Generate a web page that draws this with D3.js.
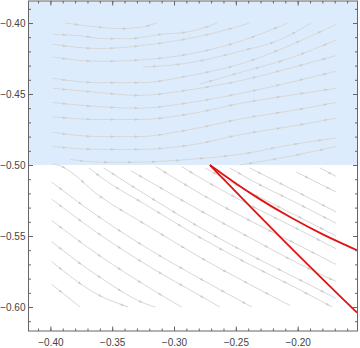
<!DOCTYPE html>
<html>
<head>
<meta charset="utf-8">
<script src="https://cdn.jsdelivr.net/npm/d3@7"></script>
<style>
  body { margin: 0; background: #fff; }
  svg text { font-family: "Liberation Sans", Arial, sans-serif; font-size: 10px; fill: #444; }
</style>
</head>
<body>
<div id="chart-area"></div>
<script>
// tick values
const xTicks = [-0.40, -0.35, -0.30, -0.25, -0.20]
const yTicks = [-0.40, -0.45, -0.50, -0.55, -0.60]
const regionBoundary = -0.5

// streamlines above y = -0.5 (shaded region)
const upperStreams = [
  [[-0.388,-0.400],[-0.360,-0.403],[-0.344,-0.404],[-0.327,-0.403],[-0.314,-0.400]],
  [[-0.398,-0.408],[-0.376,-0.409],[-0.357,-0.411],[-0.336,-0.411],[-0.311,-0.408],[-0.287,-0.406],[-0.265,-0.400]],
  [[-0.398,-0.415],[-0.360,-0.418],[-0.327,-0.416],[-0.295,-0.412],[-0.263,-0.406],[-0.239,-0.400]],
  [[-0.398,-0.424],[-0.360,-0.427],[-0.327,-0.426],[-0.295,-0.423],[-0.247,-0.413],[-0.208,-0.400]],
  [[-0.325,-0.431],[-0.295,-0.429],[-0.247,-0.420],[-0.215,-0.412],[-0.189,-0.400]],
  [[-0.398,-0.439],[-0.360,-0.442],[-0.327,-0.442],[-0.287,-0.437],[-0.243,-0.428],[-0.207,-0.416],[-0.169,-0.401]],
  [[-0.279,-0.443],[-0.243,-0.434],[-0.207,-0.425],[-0.169,-0.412]],
  [[-0.398,-0.446],[-0.360,-0.449],[-0.329,-0.451],[-0.287,-0.447],[-0.243,-0.440],[-0.207,-0.432],[-0.169,-0.423]],
  [[-0.398,-0.456],[-0.360,-0.459],[-0.329,-0.460],[-0.287,-0.456],[-0.243,-0.449],[-0.207,-0.442],[-0.169,-0.434]],
  [[-0.398,-0.466],[-0.360,-0.468],[-0.329,-0.468],[-0.287,-0.464],[-0.243,-0.456],[-0.207,-0.451],[-0.169,-0.446]],
  [[-0.398,-0.477],[-0.360,-0.480],[-0.329,-0.480],[-0.287,-0.475],[-0.243,-0.467],[-0.207,-0.462],[-0.169,-0.456]],
  [[-0.398,-0.487],[-0.360,-0.489],[-0.329,-0.489],[-0.287,-0.486],[-0.243,-0.478],[-0.207,-0.473],[-0.169,-0.467]],
  [[-0.384,-0.496],[-0.360,-0.498],[-0.329,-0.498],[-0.287,-0.496],[-0.243,-0.492],[-0.207,-0.486],[-0.169,-0.481]],
  [[-0.247,-0.500],[-0.207,-0.494],[-0.169,-0.487]]
]

// streamlines below y = -0.5
const lowerStreams = [
  [[-0.399,-0.584],[-0.376,-0.600]],
  [[-0.399,-0.568],[-0.360,-0.592],[-0.337,-0.600]],
  [[-0.399,-0.554],[-0.360,-0.579],[-0.319,-0.599],[-0.315,-0.600]],
  [[-0.399,-0.539],[-0.360,-0.564],[-0.319,-0.587],[-0.294,-0.600]],
  [[-0.399,-0.524],[-0.360,-0.549],[-0.319,-0.572],[-0.279,-0.592],[-0.263,-0.600]],
  [[-0.399,-0.512],[-0.360,-0.537],[-0.319,-0.560],[-0.279,-0.580],[-0.237,-0.600]],
  [[-0.398,-0.499],[-0.391,-0.501],[-0.360,-0.522],[-0.319,-0.544],[-0.279,-0.565],[-0.239,-0.584],[-0.206,-0.599]],
  [[-0.369,-0.502],[-0.360,-0.508],[-0.319,-0.530],[-0.279,-0.551],[-0.239,-0.570],[-0.198,-0.588],[-0.172,-0.600]],
  [[-0.357,-0.502],[-0.319,-0.523],[-0.279,-0.544],[-0.239,-0.563],[-0.198,-0.581],[-0.169,-0.594]],
  [[-0.335,-0.504],[-0.319,-0.512],[-0.279,-0.532],[-0.239,-0.551],[-0.198,-0.570],[-0.169,-0.582]],
  [[-0.315,-0.501],[-0.279,-0.520],[-0.239,-0.539],[-0.198,-0.557],[-0.169,-0.570]],
  [[-0.294,-0.501],[-0.279,-0.509],[-0.239,-0.528],[-0.198,-0.546],[-0.169,-0.559]],
  [[-0.275,-0.502],[-0.239,-0.519],[-0.198,-0.537],[-0.169,-0.550]],
  [[-0.255,-0.502],[-0.239,-0.510],[-0.198,-0.528],[-0.169,-0.541]],
  [[-0.239,-0.502],[-0.198,-0.520],[-0.169,-0.533]],
  [[-0.201,-0.505],[-0.169,-0.519]],
  [[-0.182,-0.502],[-0.169,-0.508]]
]

// red trajectories
const redUpper = [[-0.271,-0.500],[-0.252,-0.512],[-0.233,-0.523],[-0.206,-0.537],[-0.180,-0.549],[-0.152,-0.560]]
const redLower = [[-0.271,-0.500],[-0.212,-0.553],[-0.152,-0.604]]

const W = 360, H = 348
const FRAME = { LEFT: 28.5, RIGHT: 357.5, TOP: 1, BOTTOM: 331 }

const svg = d3.select("#chart-area").append("svg")
  .attr("width", W)
  .attr("height", H)

const x = d3.scaleLinear().domain([-0.4177, -0.1516]).range([FRAME.LEFT, FRAME.RIGHT])
const y = d3.scaleLinear().domain([-0.6169, -0.3845]).range([FRAME.BOTTOM, FRAME.TOP])

svg.append("clipPath").attr("id", "clip")
  .append("rect")
  .attr("x", FRAME.LEFT).attr("y", FRAME.TOP)
  .attr("width", FRAME.RIGHT - FRAME.LEFT)
  .attr("height", FRAME.BOTTOM - FRAME.TOP)

const plot = svg.append("g").attr("clip-path", "url(#clip)")

// shaded region
plot.append("rect")
  .attr("x", FRAME.LEFT)
  .attr("y", FRAME.TOP)
  .attr("width", FRAME.RIGHT - FRAME.LEFT)
  .attr("height", y(regionBoundary) - FRAME.TOP)
  .attr("fill", "#ddecfc")

const line = d3.line()
  .x(d => x(d[0]))
  .y(d => y(d[1]))
  .curve(d3.curveMonotoneX)

const smooth = d3.line()
  .x(d => x(d[0]))
  .y(d => y(d[1]))
  .curve(d3.curveBasis)

// streamlines
const streams = plot.append("g")
streams.selectAll("path")
  .data(upperStreams.concat(lowerStreams))
  .enter().append("path")
  .attr("d", line)
  .attr("fill", "none")
  .attr("stroke", "#d8d8d8")
  .attr("stroke-width", 1)

// little arrowheads along each streamline
streams.selectAll("path").each(function() {
  const len = this.getTotalLength()
  for (let s = 12; s < len - 4; s += 24) {
    const p = this.getPointAtLength(s)
    const q = this.getPointAtLength(Math.min(s + 1, len))
    const ang = Math.atan2(q.y - p.y, q.x - p.x) * 180 / Math.PI
    streams.append("path")
      .attr("d", "M-2,-1.3L2,0L-2,1.3Z")
      .attr("fill", "#cdcdcd")
      .attr("transform", `translate(${p.x},${p.y}) rotate(${ang})`)
  }
})

// red curves
plot.selectAll(".red")
  .data([redUpper, redLower])
  .enter().append("path")
  .attr("class", "red")
  .attr("d", smooth)
  .attr("fill", "none")
  .attr("stroke", "#e01414")
  .attr("stroke-width", 1.8)

// frame
svg.append("rect")
  .attr("x", FRAME.LEFT).attr("y", FRAME.TOP)
  .attr("width", FRAME.RIGHT - FRAME.LEFT)
  .attr("height", FRAME.BOTTOM - FRAME.TOP)
  .attr("fill", "none")
  .attr("stroke", "#666")
  .attr("stroke-width", 1)

// minor/major tick values
const xMinor = d3.range(-41, -14).map(d => d / 100).filter(v => v >= x.domain()[0] && v <= x.domain()[1])
const yMinor = d3.range(-61, -38).map(d => d / 100).filter(v => v >= y.domain()[0] && v <= y.domain()[1])
const fmt = d3.format(".2f")

function drawAxis(axisGen, transform, ticks, size, labels) {
  const g = svg.append("g")
    .attr("transform", transform)
    .call(axisGen.tickValues(ticks).tickSize(size).tickFormat(labels ? fmt : ""))
  g.select(".domain").remove()
  g.selectAll("line").attr("stroke", "#666")
  g.selectAll("text").attr("fill", "#444").style("font-size", "10px")
  return g
}

// bottom
drawAxis(d3.axisBottom(x), `translate(0,${FRAME.BOTTOM})`, xMinor, -2.5, false)
drawAxis(d3.axisBottom(x), `translate(0,${FRAME.BOTTOM})`, xTicks, -4.5, true)
  .selectAll("text").attr("y", 8).attr("dy", "0.71em")
// top
drawAxis(d3.axisTop(x), `translate(0,${FRAME.TOP})`, xMinor, -2.5, false)
drawAxis(d3.axisTop(x), `translate(0,${FRAME.TOP})`, xTicks, -4.5, false)
// left
drawAxis(d3.axisLeft(y), `translate(${FRAME.LEFT},0)`, yMinor, -2.5, false)
drawAxis(d3.axisLeft(y), `translate(${FRAME.LEFT},0)`, yTicks, -4.5, true)
  .selectAll("text").attr("x", -3)
// right
drawAxis(d3.axisRight(y), `translate(${FRAME.RIGHT},0)`, yMinor, -2.5, false)
drawAxis(d3.axisRight(y), `translate(${FRAME.RIGHT},0)`, yTicks, -4.5, false)
</script>
</body>
</html>
